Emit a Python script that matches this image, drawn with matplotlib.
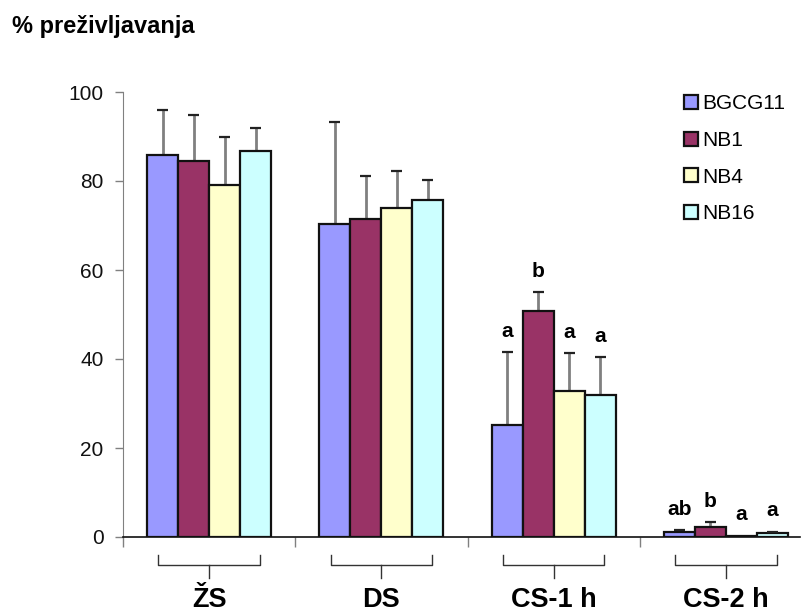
import numpy as np
import matplotlib
matplotlib.use("Agg")
import matplotlib.pyplot as plt
from matplotlib.transforms import blended_transform_factory

plt.rcParams['font.family'] = ['Liberation Sans', 'DejaVu Sans']

groups = ['ŽS', 'DS', 'CS-1 h', 'CS-2 h']
strains = ['BGCG11', 'NB1', 'NB4', 'NB16']
colors = ['#9999FF', '#993366', '#FFFFCC', '#CCFFFF']

# survival (%) per strain, one value per group
values = {
    'BGCG11': [85.8, 70.3, 25.2, 1.2],
    'NB1':    [84.4, 71.5, 50.8, 2.2],
    'NB4':    [79.2, 74.0, 32.8, 0.3],
    'NB16':   [86.7, 75.8, 31.9, 1.0],
}
errors = {
    'BGCG11': [10.1, 22.9, 16.4, 0.3],
    'NB1':    [10.4, 9.7, 4.2, 1.1],
    'NB4':    [10.8, 8.3, 8.5, 0.0],
    'NB16':   [5.1, 4.4, 8.5, 0.2],
}
letters = {
    'BGCG11': [None, None, 'a', 'ab'],
    'NB1':    [None, None, 'b', 'b'],
    'NB4':    [None, None, 'a', 'a'],
    'NB16':   [None, None, 'a', 'a'],
}

fig = plt.figure(figsize=(8.05, 6.14), dpi=100)
ax = fig.add_axes([123 / 805, 1 - 537 / 614, (800 - 123) / 805, (537 - 92) / 614])

x = np.arange(len(groups))
w = 0.18
handles = []
for i, s in enumerate(strains):
    xs = x + (i - 1.5) * w
    v = np.array(values[s])
    e = np.array(errors[s])
    b = ax.bar(xs, v, width=w, color=colors[i], edgecolor='#111111', linewidth=1.6, zorder=2)
    handles.append(b)
    top = v + e
    ax.vlines(xs, v, top, color='#808080', linewidth=2, zorder=1)
    ax.hlines(top[e > 0], xs[e > 0] - 0.032, xs[e > 0] + 0.032, color='#222222', linewidth=1.6, zorder=3)
    for xi, t, lab in zip(xs, top, letters[s]):
        if lab:
            ax.annotate(lab, (xi, t), xytext=(0, 15), textcoords='offset points',
                        ha='center', va='center', fontsize=15, fontweight='bold')

ax.set_xlim(-0.5, 3.43)
ax.set_ylim(0, 100)
ax.set_yticks(range(0, 101, 20))
ax.tick_params(axis='y', labelsize=15, length=6, width=1, direction='out', pad=8,
               color='#808080', labelcolor='#111111')
ax.set_xticks([-0.5, 0.5, 1.5, 2.5])
ax.set_xticklabels([])
ax.tick_params(axis='x', length=7, width=1, direction='out', color='#808080')
ax.spines['top'].set_visible(False)
ax.spines['right'].set_visible(False)
ax.spines['left'].set_color('#808080')
ax.spines['bottom'].set_color('#111111')
ax.spines['bottom'].set_linewidth(1.2)

# group braces and labels below the axis
tr = blended_transform_factory(ax.transData, ax.transAxes)
hw = 0.294
for xc, g in zip(x, groups):
    ax.plot([xc - hw, xc - hw, xc + hw, xc + hw], [-0.040, -0.063, -0.063, -0.040],
            transform=tr, color='#333333', linewidth=1, clip_on=False)
    ax.plot([xc, xc], [-0.063, -0.092], transform=tr, color='#333333', linewidth=1, clip_on=False)
    ax.text(xc, -0.157, g, transform=tr, ha='center', va='baseline', fontsize=19.5,
            fontweight='bold')

fig.text(12 / 805, 1 - 27 / 614, '% preživljavanja', ha='left', va='center',
         fontsize=17, fontweight='bold')

fig.legend(handles, strains, loc='upper left', bbox_to_anchor=(676 / 805, 1 - 86 / 614),
           frameon=False, fontsize=15, handlelength=0.65, handleheight=0.65,
           handletextpad=0.2, labelspacing=0.85, borderaxespad=0)

fig.savefig('out.png', dpi=100)
